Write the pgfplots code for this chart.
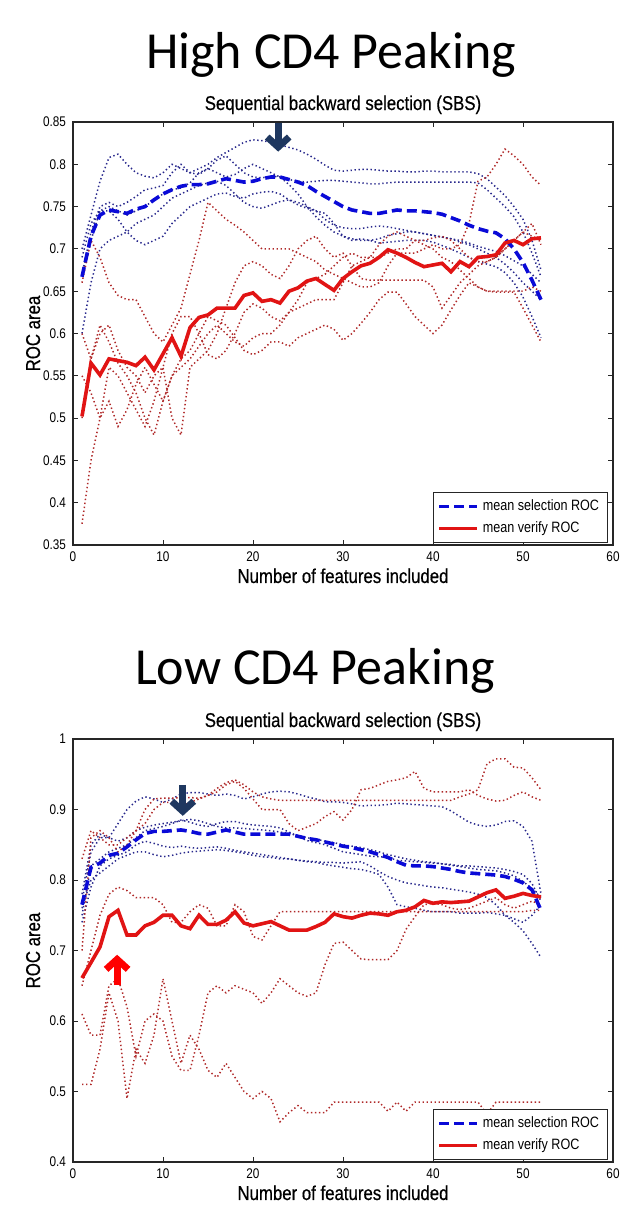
\documentclass[border=0pt]{standalone}
\usepackage{fontspec}
\setmainfont{Liberation Sans}[FakeStretch=0.84]
\newfontfamily\labfont{Liberation Sans}[FakeStretch=0.84, FakeBold=0.5]
\newfontfamily\calibri{Carlito}
\usepackage{pgfplots}
\usepackage{pgfplotstable}
\pgfplotsset{compat=1.18}
\usetikzlibrary{arrows.meta}

\definecolor{selblue}{RGB}{10,10,215}
\definecolor{verred}{RGB}{225,20,20}
\definecolor{dotblue}{RGB}{40,40,140}
\definecolor{dotred}{RGB}{175,40,40}
\definecolor{navy}{RGB}{31,56,96}
\definecolor{arrred}{RGB}{255,0,0}

\pgfplotstableread{
x ms mv b1 b2 b3 b4 b5 r1 r2 r3 r4 r5
1 .667 .502 .70 .67 .67 .60 .69 .66 .375 .60 .55 .50
2 .715 .565 .74 .72 .71 .66 .73 .71 .45 .57 .53 .57
3 .740 .551 .78 .75 .745 .70 .745 .69 .50 .60 .50 .61
4 .746 .570 .808 .755 .745 .71 .75 .66 .56 .61 .52 .59
5 .744 .568 .812 .75 .735 .715 .745 .645 .55 .58 .49 .565
6 .742 .566 .80 .755 .72 .72 .74 .64 .53 .56 .51 .55
7 .747 .562 .79 .762 .71 .73 .745 .64 .51 .55 .54 .53
8 .750 .572 .786 .77 .705 .735 .75 .62 .49 .53 .56 .50
9 .758 .557 .784 .772 .71 .74 .758 .60 .52 .55 .54 .48
10 .765 .576 .79 .775 .715 .75 .765 .59 .56 .56 .52 .52
11 .770 .595 .80 .79 .73 .76 .77 .61 .60 .50 .55 .55
12 .774 .573 .795 .80 .74 .765 .772 .63 .62 .48 .56 .57
13 .776 .607 .79 .79 .75 .77 .778 .67 .62 .56 .57 .58
14 .776 .619 .795 .788 .755 .775 .79 .71 .60 .57 .585 .60
15 .777 .622 .80 .795 .76 .778 .795 .755 .575 .58 .60 .62
16 .780 .630 .808 .805 .765 .78 .79 .745 .57 .60 .61 .615
17 .783 .630 .814 .81 .766 .775 .785 .735 .58 .63 .60 .61
18 .781 .630 .82 .80 .762 .765 .788 .728 .60 .66 .59 .595
19 .779 .645 .826 .79 .76 .755 .795 .72 .625 .68 .585 .58
20 .780 .648 .829 .785 .765 .75 .80 .71 .635 .685 .595 .575
21 .783 .638 .828 .784 .767 .748 .795 .70 .63 .68 .60 .58
22 .785 .640 .826 .786 .768 .752 .79 .70 .62 .67 .60 .59
23 .785 .636 .823 .785 .765 .756 .785 .70 .615 .665 .61 .59
24 .782 .650 .82 .782 .758 .758 .776 .70 .625 .68 .625 .585
25 .779 .654 .817 .78 .752 .755 .765 .695 .64 .70 .63 .595
26 .775 .662 .812 .779 .748 .75 .75 .69 .66 .71 .635 .60
27 .768 .665 .806 .78 .745 .745 .738 .685 .665 .715 .64 .605
28 .762 .658 .799 .781 .742 .735 .728 .675 .67 .70 .64 .61
29 .756 .651 .793 .781 .73 .728 .72 .67 .68 .69 .64 .605
30 .750 .665 .792 .78 .715 .725 .715 .665 .69 .695 .66 .592
31 .746 .673 .793 .779 .71 .724 .712 .66 .695 .68 .68 .60
32 .744 .680 .794 .778 .712 .724 .71 .655 .69 .665 .685 .612
33 .742 .683 .794 .777 .71 .726 .71 .655 .69 .663 .69 .625
34 .742 .690 .793 .777 .707 .727 .712 .66 .69 .663 .705 .64
35 .744 .699 .792 .778 .708 .726 .716 .68 .695 .663 .715 .649
36 .746 .695 .792 .779 .709 .724 .718 .695 .70 .663 .72 .649
37 .745 .690 .791 .779 .71 .722 .72 .695 .70 .663 .715 .635
38 .745 .684 .791 .779 .71 .72 .72 .695 .71 .663 .71 .62
39 .744 .679 .792 .779 .71 .718 .718 .70 .71 .663 .705 .61
40 .743 .681 .792 .779 .708 .716 .716 .705 .713 .655 .70 .60
41 .741 .683 .791 .779 .704 .714 .714 .70 .715 .63 .69 .61
42 .737 .673 .791 .779 .70 .712 .712 .70 .71 .645 .685 .628
43 .733 .685 .791 .779 .695 .71 .708 .705 .70 .66 .675 .645
44 .728 .679 .791 .779 .69 .707 .705 .73 .69 .67 .665 .66
45 .724 .690 .789 .778 .685 .703 .70 .78 .685 .68 .655 .655
46 .721 .691 .783 .77 .682 .70 .695 .785 .685 .685 .65 .65
47 .719 .693 .773 .76 .679 .697 .69 .80 .69 .69 .65 .649
48 .712 .707 .763 .75 .672 .692 .682 .818 .70 .70 .65 .649
49 .700 .710 .75 .738 .66 .686 .672 .81 .71 .71 .65 .649
50 .684 .705 .735 .72 .643 .68 .66 .80 .72 .72 .65 .63
51 .663 .712 .71 .695 .62 .67 .65 .785 .715 .73 .655 .61
52 .640 .713 .675 .667 .595 .66 .64 .775 .71 .705 .65 .59
}\toptab

\pgfplotstableread{
x ms mv b1 b2 b3 b4 b5 r1 r2 r3 r4 r5
1 .765 .661 .77 .75 .74 .76 .78 .70 .83 .65 .61 .51
2 .818 .683 .84 .82 .79 .80 .85 .86 .87 .70 .58 .51
3 .824 .705 .86 .83 .82 .81 .865 .87 .86 .75 .58 .56
4 .835 .748 .86 .84 .83 .82 .86 .86 .85 .78 .65 .64
5 .838 .757 .88 .845 .835 .83 .855 .84 .85 .79 .66 .60
6 .847 .722 .90 .85 .84 .835 .86 .85 .86 .785 .62 .49
7 .857 .722 .912 .86 .85 .84 .87 .87 .87 .775 .55 .56
8 .866 .735 .918 .87 .855 .84 .875 .90 .88 .775 .60 .54
9 .869 .740 .915 .873 .852 .836 .878 .915 .90 .775 .61 .58
10 .869 .750 .91 .876 .848 .833 .88 .916 .91 .765 .60 .66
11 .870 .750 .915 .88 .846 .835 .882 .916 .91 .74 .55 .60
12 .871 .735 .922 .885 .848 .838 .884 .917 .905 .74 .53 .54
13 .869 .731 .924 .882 .846 .84 .886 .917 .91 .755 .53 .58
14 .866 .750 .924 .878 .845 .841 .884 .916 .915 .765 .58 .56
15 .865 .737 .922 .876 .846 .842 .88 .92 .92 .76 .64 .53
16 .868 .737 .92 .88 .847 .843 .876 .93 .925 .735 .65 .52
17 .871 .743 .922 .883 .845 .842 .874 .938 .935 .735 .64 .54
18 .868 .755 .92 .883 .842 .84 .874 .942 .94 .765 .65 .52
19 .865 .739 .915 .88 .84 .838 .873 .935 .93 .755 .645 .50
20 .865 .735 .918 .878 .838 .835 .872 .925 .915 .72 .64 .49
21 .865 .738 .922 .877 .836 .833 .871 .918 .90 .715 .625 .50
22 .865 .741 .925 .876 .834 .832 .87 .915 .90 .735 .64 .49
23 .865 .735 .926 .874 .832 .83 .868 .913 .90 .755 .66 .457
24 .865 .729 .925 .868 .83 .83 .866 .913 .88 .755 .65 .47
25 .862 .729 .922 .862 .828 .828 .863 .913 .87 .755 .64 .48
26 .859 .729 .918 .856 .827 .826 .86 .913 .875 .755 .635 .47
27 .857 .734 .915 .853 .826 .825 .858 .913 .88 .755 .64 .47
28 .854 .740 .911 .85 .825 .822 .855 .913 .89 .755 .68 .47
29 .851 .752 .911 .845 .825 .82 .853 .913 .897 .755 .71 .485
30 .848 .748 .91 .84 .824 .818 .85 .913 .885 .755 .712 .485
31 .846 .746 .908 .838 .825 .816 .848 .913 .90 .755 .70 .485
32 .843 .750 .905 .836 .826 .815 .846 .913 .928 .755 .688 .485
33 .840 .753 .906 .834 .82 .812 .843 .913 .93 .755 .687 .485
34 .836 .752 .906 .833 .812 .808 .84 .913 .935 .755 .687 .485
35 .832 .750 .907 .832 .805 .79 .836 .913 .94 .755 .687 .472
36 .826 .755 .909 .828 .80 .765 .833 .913 .942 .755 .70 .485
37 .821 .757 .908 .827 .796 .762 .83 .913 .945 .755 .73 .472
38 .820 .762 .907 .826 .794 .76 .828 .913 .954 .755 .748 .485
39 .820 .771 .906 .825 .792 .757 .826 .913 .93 .755 .765 .485
40 .819 .767 .905 .824 .79 .755 .825 .913 .925 .755 .767 .485
41 .817 .769 .904 .823 .789 .755 .823 .913 .925 .755 .765 .485
42 .815 .768 .898 .821 .787 .755 .822 .913 .925 .755 .76 .485
43 .812 .769 .89 .819 .785 .753 .82 .918 .925 .755 .758 .485
44 .810 .770 .882 .817 .783 .753 .82 .922 .928 .755 .76 .485
45 .809 .776 .878 .815 .78 .753 .819 .928 .92 .755 .765 .485
46 .808 .782 .876 .814 .775 .754 .818 .965 .915 .755 .77 .468
47 .807 .786 .878 .813 .765 .752 .817 .972 .912 .755 .775 .485
48 .805 .774 .883 .81 .75 .75 .815 .972 .913 .755 .765 .485
49 .801 .777 .884 .806 .74 .745 .812 .96 .92 .755 .76 .485
50 .796 .781 .876 .798 .728 .74 .808 .959 .925 .755 .765 .485
51 .786 .778 .855 .788 .71 .75 .795 .945 .918 .757 .77 .485
52 .757 .776 .78 .775 .69 .765 .77 .928 .913 .757 .765 .485
}\bottab

\pgfplotsset{
  roc/.style={
    width=270pt, height=211.5pt, scale only axis,
    anchor=south west, clip=false,
    xmin=0, xmax=60, xtick={0,10,20,30,40,50,60},
    tick align=inside, major tick length=2.5pt,
    axis line style={line width=0.6pt, black!85},
    every tick/.style={black!85, line width=0.5pt},
    /pgf/number format/fixed, /pgf/number format/precision=2,
    /pgf/number format/assume math mode=true,
    tick label style={font=\fontsize{7}{8}\selectfont},
    title={Sequential backward selection (SBS)},
    title style={font=\labfont\fontsize{10}{12}\selectfont, at={(0.5,1.0284)}, anchor=base, yshift=-6pt},
    xlabel={Number of features included},
    xlabel style={font=\labfont\fontsize{10}{12}\selectfont, at={(0.5,-0.0898)}, anchor=base},
    ylabel={ROC area},
    ylabel style={font=\labfont\fontsize{10}{12}\selectfont, at={(-0.0611,0.5)}, anchor=base},
    legend style={at={(0.99,0.005)}, anchor=south east,
      font=\fontsize{7.5}{9}\selectfont, draw=black!85, line width=0.5pt,
      inner xsep=2pt, inner ysep=1.5pt, row sep=0pt, cells={anchor=west}},
    legend image code/.code={\draw[#1] (0pt,0pt) -- (19pt,0pt);},
  },
  dotb/.style={dotblue, line width=0.75pt, dash pattern=on 0.7pt off 1.3pt, forget plot},
  dotr/.style={dotred, line width=0.75pt, dash pattern=on 0.7pt off 1.3pt, forget plot},
  msel/.style={selblue, line width=1.8pt, dash pattern=on 5pt off 2.5pt},
  mver/.style={verred, line width=1.8pt},
}

\begin{document}
\begin{tikzpicture}[x=1pt,y=1pt]
\path[use as bounding box] (0,0) rectangle (319,-616);
\node[font=\calibri\fontsize{26}{30}\selectfont, anchor=base] at (165.5,-34) {High CD4 Peaking};
\node[font=\calibri\fontsize{26}{30}\selectfont, anchor=base] at (157.5,-342) {Low CD4 Peaking};

\begin{axis}[roc, at={(36.5pt,-272.5pt)},
  ymin=0.35, ymax=0.85, ytick={0.35,0.4,0.45,0.5,0.55,0.6,0.65,0.7,0.75,0.8,0.85}]
  \foreach \c in {b1,b2,b3,b4,b5}{\addplot[dotb] table[x=x,y=\c] {\toptab};}
  \foreach \c in {r1,r2,r3,r4,r5}{\addplot[dotr] table[x=x,y=\c] {\toptab};}
  \addplot[msel] table[x=x,y=ms] {\toptab};
  \addlegendentry{mean selection ROC}
  \addplot[mver] table[x=x,y=mv] {\toptab};
  \addlegendentry{mean verify ROC}
  \draw[navy, line width=3.4pt, -{Straight Barb[length=5pt,width=11pt]}] (axis cs:22.8,0.849) -- (axis cs:22.8,0.815);
\end{axis}

\begin{axis}[roc, at={(36.5pt,-581pt)},
  ymin=0.4, ymax=1, ytick={0.4,0.5,0.6,0.7,0.8,0.9,1}]
  \foreach \c in {b1,b2,b3,b4,b5}{\addplot[dotb] table[x=x,y=\c] {\bottab};}
  \foreach \c in {r1,r2,r3,r4,r5}{\addplot[dotr] table[x=x,y=\c] {\bottab};}
  \addplot[msel] table[x=x,y=ms] {\bottab};
  \addlegendentry{mean selection ROC}
  \addplot[mver] table[x=x,y=mv] {\bottab};
  \addlegendentry{mean verify ROC}
  \draw[navy, line width=3.4pt, -{Straight Barb[length=5pt,width=11pt]}] (axis cs:12.2,0.935) -- (axis cs:12.2,0.891);
  \draw[arrred, line width=3.4pt, -{Straight Barb[length=5pt,width=11pt]}] (axis cs:4.9,0.651) -- (axis cs:4.9,0.694);
\end{axis}
\end{tikzpicture}
\end{document}
